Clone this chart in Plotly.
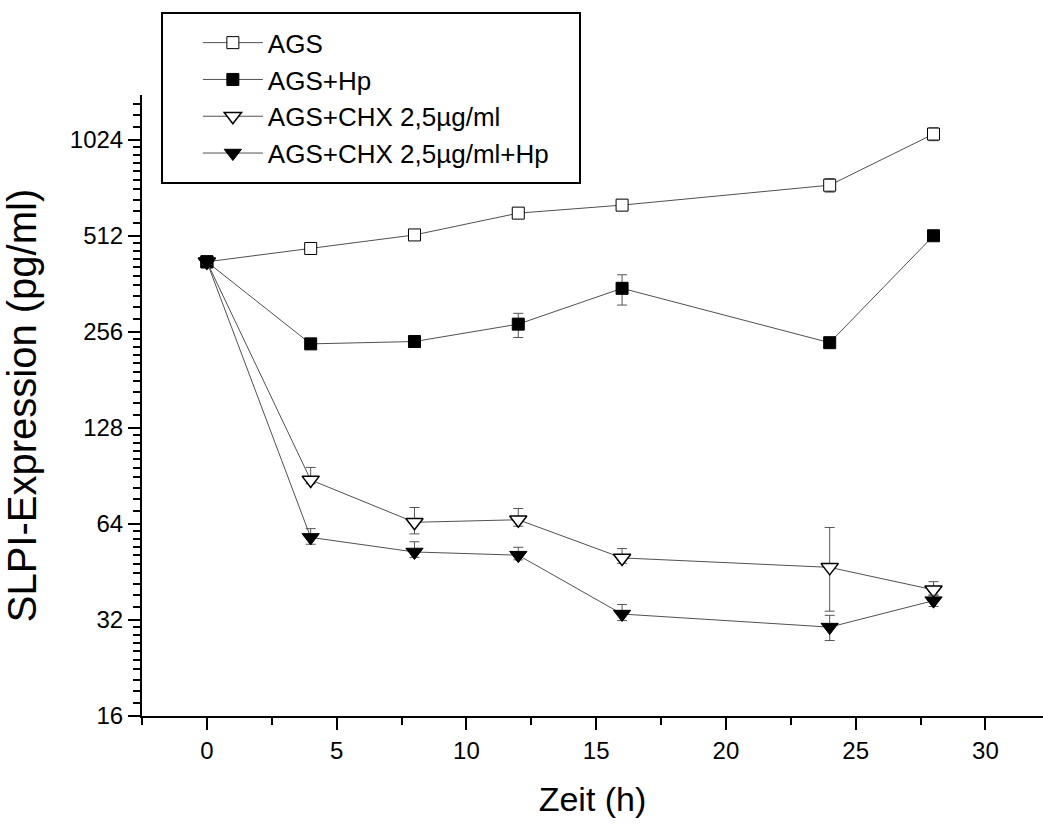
import plotly.graph_objects as go

# ---- data ----
zeit = [0, 4, 8, 12, 16, 24, 28]

ags = [425, 468, 516, 604, 640, 739, 1069]
ags_err_plus = [8, 10, 12, 15, 25, 36, 50]
ags_err_minus = [8, 10, 12, 15, 25, 36, 50]

ags_hp = [425, 235, 239, 271, 351, 237, 513]
ags_hp_err_plus = [8, 5, 5, 22, 36, 5, 8]
ags_hp_err_minus = [8, 5, 5, 25, 40, 5, 8]

ags_chx = [425, 88, 64.8, 66, 50.1, 46.8, 39.8]
ags_chx_err_plus = [8, 8.3, 7.3, 5.6, 3.5, 15.6, 2.4]
ags_chx_err_minus = [8, 2.4, 5.2, 3.0, 1.9, 12.7, 1.5]

ags_chx_hp = [425, 58.1, 52.3, 51.1, 33.4, 30.4, 36.8]
ags_chx_hp_err_plus = [8, 3.8, 4.0, 3.0, 2.4, 2.7, 1.5]
ags_chx_hp_err_minus = [8, 2.8, 2.0, 1.7, 1.5, 2.8, 1.5]

series_names = ["AGS", "AGS+Hp", "AGS+CHX 2,5µg/ml", "AGS+CHX 2,5µg/ml+Hp"]

y_tickvals = [16, 32, 64, 128, 256, 512, 1024]
y_ticktext = ["16", "32", "64", "128", "256", "512", "1024"]
x_tickvals = [0, 5, 10, 15, 20, 25, 30]

# minor ticks on the log2 axis: linear steps of 1/10 octave base
y_minor = []
for base in [16, 32, 64, 128, 256, 512, 1024]:
    for j in range(1, 10):
        v = base * (1 + j / 10)
        if v < 1420:
            y_minor.append(v)

FONT = "Liberation Sans, Arial, sans-serif"

styles = [
    dict(symbol="square", size=12, color="white", line=dict(color="black", width=1)),
    dict(symbol="square", size=12, color="black", line=dict(color="black", width=1)),
    dict(symbol="triangle-down", size=15, color="white", line=dict(color="black", width=1.5)),
    dict(symbol="triangle-down", size=15, color="black", line=dict(color="black", width=1)),
]

data = [
    (ags, ags_err_plus, ags_err_minus),
    (ags_hp, ags_hp_err_plus, ags_hp_err_minus),
    (ags_chx, ags_chx_err_plus, ags_chx_err_minus),
    (ags_chx_hp, ags_chx_hp_err_plus, ags_chx_hp_err_minus),
]

fig = go.Figure()
for name, (vals, ep, em), mk in zip(series_names, data, styles):
    fig.add_trace(go.Scatter(
        x=zeit, y=vals, name=name, mode="lines+markers",
        line=dict(color="#505050", width=1),
        marker=mk,
        error_y=dict(type="data", array=ep, arrayminus=em, symmetric=False,
                     color="#555555", thickness=1, width=5),
    ))

fig.update_layout(
    width=1043, height=826,
    margin=dict(l=142, r=0, t=95, b=110),
    paper_bgcolor="white", plot_bgcolor="white",
    font=dict(family=FONT, color="black"),
    showlegend=True,
    legend=dict(
        x=0.062, y=1.122, xanchor="left", yanchor="top",
        bgcolor="rgba(0,0,0,0)", borderwidth=0,
        font=dict(size=26, family=FONT, color="black"),
        tracegroupgap=0, itemwidth=60,
    ),
    shapes=[dict(type="rect", xref="paper", yref="paper",
                 x0=(162 - 142) / 901, x1=(580 - 142) / 901,
                 y0=(716 - 183) / 621, y1=(716 - 13) / 621,
                 line=dict(color="black", width=2), fillcolor="rgba(0,0,0,0)")],
)

fig.update_xaxes(
    range=[-2.5, 32.22],
    tickvals=x_tickvals,
    ticks="outside", ticklen=12, tickwidth=2, tickcolor="black",
    showline=True, linewidth=2, linecolor="black",
    showgrid=False, zeroline=False,
    tickfont=dict(size=24, family=FONT),
    minor=dict(tickmode="linear", tick0=-2.5, dtick=5, ticks="outside",
               ticklen=7, tickwidth=2, tickcolor="black", showgrid=False),
    title=dict(text="Zeit (h)", font=dict(size=34, family=FONT), standoff=24),
)

fig.update_yaxes(
    type="log",
    range=[1.20412, 3.1515],
    tickvals=y_tickvals, ticktext=y_ticktext,
    ticks="outside", ticklen=12, tickwidth=2, tickcolor="black",
    showline=True, linewidth=2, linecolor="black",
    showgrid=False, zeroline=False,
    tickfont=dict(size=24, family=FONT),
    minor=dict(tickvals=y_minor, ticks="outside", ticklen=7, tickwidth=2,
               tickcolor="black", showgrid=False),
    title=dict(text="SLPI-Expression (pg/ml)", font=dict(size=40, family=FONT), standoff=23),
)

fig.write_html("out.html")
